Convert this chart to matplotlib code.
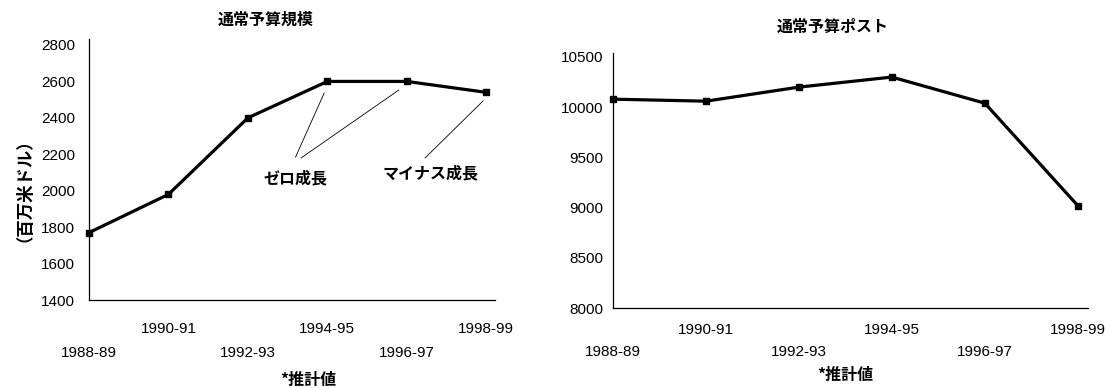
import matplotlib.pyplot as plt

plt.rcParams['font.family'] = ['Liberation Sans', 'Noto Sans CJK JP']

years = ["1988-89", "1990-91", "1992-93", "1994-95", "1996-97", "1998-99"]
budget_size = [1770, 1980, 2400, 2600, 2600, 2540]
budget_posts = [10080, 10060, 10200, 10300, 10040, 9020]

W, H = 1110, 388
fig = plt.figure(figsize=(W / 100, H / 100), dpi=100)


def px_axes(x0, y0, x1, y1):
    # axes box given in pixel coordinates (top-left origin)
    return fig.add_axes([x0 / W, 1 - y1 / H, (x1 - x0) / W, (y1 - y0) / H])


def style_axes(ax, values, ylim, ystep, spine_top, ypad, pad_hi, pad_lo):
    xs = list(range(len(values)))
    ax.plot(xs, values, color='black', lw=2.3, marker='s', ms=5,
            clip_on=False)
    ax.set_xlim(0, len(values) - 1 + 0.11)
    ax.set_ylim(*ylim)
    ax.set_yticks(range(ylim[0], ylim[1] + 1, ystep))
    ax.tick_params(axis='y', length=0, pad=ypad, labelsize=11)
    # alternate the year labels on two rows
    ax.set_xticks(xs[1::2])
    ax.set_xticklabels(years[1::2])
    ax.set_xticks(xs[0::2], minor=True)
    ax.set_xticklabels(years[0::2], minor=True)
    ax.tick_params(axis='x', which='major', length=0, pad=pad_hi, labelsize=11)
    ax.tick_params(axis='x', which='minor', length=0, pad=pad_lo, labelsize=11)
    for s in ['top', 'right']:
        ax.spines[s].set_visible(False)
    for s in ['left', 'bottom']:
        ax.spines[s].set_linewidth(0.9)
    ax.spines['left'].set_bounds(ylim[0], spine_top)


bold = dict(family=['Noto Sans CJK JP'], fontweight='bold')

# 通常予算規模
ax1 = px_axes(89, 45, 495, 300)
style_axes(ax1, budget_size, (1400, 2800), 200, 2833, 10, 16, 33)

ax1.plot([2.60, 2.96], [2185, 2536], color='black', lw=0.6)
ax1.plot([2.67, 3.90], [2180, 2553], color='black', lw=0.6)
ax1.plot([4.23, 4.96], [2180, 2493], color='black', lw=0.6)
ax1.text(2.60, 2070, "ゼロ成長", ha='center', va='center', fontsize=11.5, **bold)
ax1.text(4.30, 2097, "マイナス成長", ha='center', va='center', fontsize=11.5, **bold)

fig.text(266 / W, 1 - 20 / H, "通常予算規模", ha='center', va='center',
         fontsize=11.5, **bold)
fig.text(15 / W, 1 - 181 / H, "（百万米ドル）", ha='center', va='center',
         rotation=90, fontsize=12.5, **bold)
fig.text(308 / W, 1 - 380 / H, "*推計値", ha='center', va='center',
         fontsize=11.5, **bold)

# 通常予算ポスト
ax2 = px_axes(613, 57, 1088, 308)
style_axes(ax2, budget_posts, (8000, 10500), 500, 10540, 7, 11, 27)

fig.text(833 / W, 1 - 27 / H, "通常予算ポスト", ha='center', va='center',
         fontsize=11.5, **bold)
fig.text(845 / W, 1 - 375 / H, "*推計値", ha='center', va='center',
         fontsize=11.5, **bold)

fig.savefig("out.png", dpi=100)
